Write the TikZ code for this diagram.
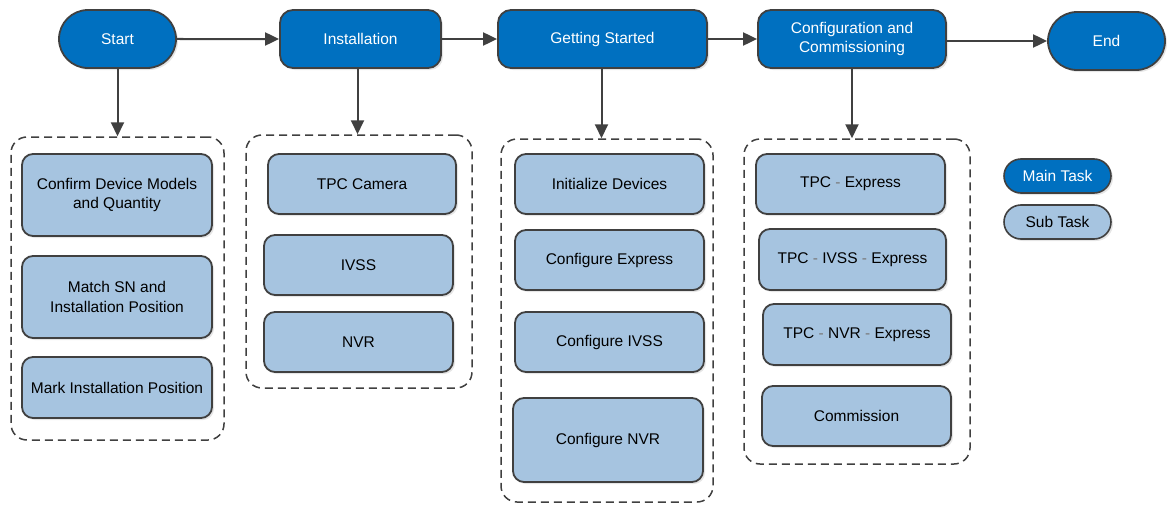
\documentclass[tikz,border=0pt]{standalone}
\usepackage{fontspec}
\setmainfont{Liberation Sans}
\usetikzlibrary{arrows.meta,shapes.misc,shadows}
\definecolor{mainblue}{RGB}{0,112,192}
\definecolor{subblue}{RGB}{166,196,224}
\definecolor{edge}{RGB}{64,64,64}
\definecolor{sepgray}{RGB}{120,120,120}
\newcommand{\sep}{ \textcolor{sepgray}{-} }
\begin{document}
\begin{tikzpicture}[x=1pt,y=-1pt,
  font=\fontsize{15.5}{19.5}\selectfont,
  shad/.style={drop shadow={opacity=0.2,shadow xshift=2pt,shadow yshift=-2pt}},
  mainbox/.style={draw=edge,line width=1.8pt,fill=mainblue,text=white,rounded corners=13pt,align=center,shad,inner sep=2pt},
  mainstad/.style={draw=edge,line width=1.8pt,fill=mainblue,text=white,rounded rectangle,align=center,shad,inner sep=2pt},
  subbox/.style={draw=edge,line width=1.8pt,fill=subblue,text=black,rounded corners=11pt,align=center,shad,inner sep=2pt},
  substad/.style={draw=edge,line width=1.6pt,fill=subblue,text=black,rounded rectangle,align=center,shad,inner sep=2pt},
  group/.style={draw=edge,line width=1.5pt,dash pattern=on 8pt off 5pt,rounded corners=16pt,inner sep=0pt},
  arr/.style={draw=edge,line width=2pt,-{Triangle[length=14pt,width=13pt]}}]
\useasboundingbox (0,0) rectangle (1173,506);
% main tasks
\node[mainstad,minimum width=121pt,minimum height=58pt] (start) at (117.5,39) {Start};
\node[mainbox,minimum width=161pt,minimum height=58pt] (inst) at (360.5,39) {Installation};
\node[mainbox,minimum width=209pt,minimum height=58pt] (gs) at (602.5,39) {Getting Started};
\node[mainbox,minimum width=188pt,minimum height=58pt] (cfg) at (852,39) {Configuration and\\Commissioning};
\node[mainstad,minimum width=121pt,minimum height=58pt] (end) at (1106.5,41) {End};
% groups
\node[group,minimum width=213pt,minimum height=303pt] (g1) at (117.5,288.5) {};
\node[group,minimum width=226pt,minimum height=253pt] (g2) at (359,261.5) {};
\node[group,minimum width=212pt,minimum height=363pt] (g3) at (607,320.5) {};
\node[group,minimum width=226pt,minimum height=325pt] (g4) at (857,301.5) {};
% horizontal arrows
\draw[arr] (start) -- (inst);
\draw[arr] (inst) -- (gs);
\draw[arr] (gs) -- (cfg);
\draw[arr] (cfg.east |- end) -- (end);
% down arrows
\draw[arr] (start.south) -- (start.south |- g1.north);
\draw[arr] ([xshift=-3pt]inst.south) -- ([xshift=-3pt]inst.south |- g2.north);
\draw[arr] ([xshift=-1pt]gs.south) -- ([xshift=-1pt]gs.south |- g3.north);
\draw[arr] (cfg.south) -- (cfg.south |- g4.north);
% group 1
\node[subbox,minimum width=190pt,minimum height=82pt] (s11) at (117,195) {Confirm Device Models\\and Quantity};
\node[subbox,minimum width=190pt,minimum height=82pt] (s12) at (117,297) {Match SN and\\Installation Position};
\node[subbox,minimum width=190pt,minimum height=61pt] (s13) at (117,387.5) {Mark Installation Position};
% group 2
\node[subbox,minimum width=188pt,minimum height=60pt] (s21) at (362,184) {TPC Camera};
\node[subbox,minimum width=189pt,minimum height=60pt] (s22) at (358.5,265) {IVSS};
\node[subbox,minimum width=189pt,minimum height=60pt] (s23) at (358.5,342) {NVR};
% group 3
\node[subbox,minimum width=189pt,minimum height=60pt] (s31) at (609.5,184) {Initialize Devices};
\node[subbox,minimum width=189pt,minimum height=60pt] (s32) at (609.5,260) {Configure Express};
\node[subbox,minimum width=189pt,minimum height=60pt] (s33) at (609.5,342) {Configure IVSS};
\node[subbox,minimum width=190pt,minimum height=84pt] (s34) at (608,440) {Configure NVR};
% group 4
\node[subbox,minimum width=189pt,minimum height=60pt] (s41) at (850.5,184) {TPC\sep Express};
\node[subbox,minimum width=187pt,minimum height=61pt] (s42) at (852.5,259.5) {TPC\sep IVSS\sep Express};
\node[subbox,minimum width=188pt,minimum height=61pt] (s43) at (857,334.5) {TPC\sep NVR\sep Express};
\node[subbox,minimum width=189pt,minimum height=60pt] (s44) at (856.5,416) {Commission};
% legend
\node[mainstad,minimum width=111pt,minimum height=34pt,line width=1.6pt] (lmain) at (1057.5,176) {Main Task};
\node[substad,minimum width=111pt,minimum height=34pt] (lsub) at (1057.5,222) {Sub Task};
\end{tikzpicture}
\end{document}
